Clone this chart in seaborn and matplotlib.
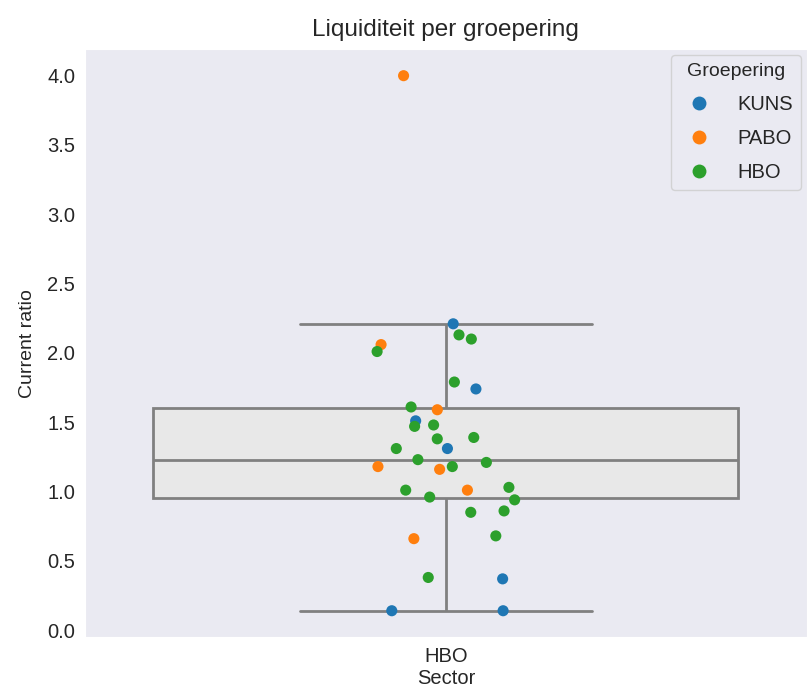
import numpy as np
import pandas as pd
import seaborn as sns
import matplotlib.pyplot as plt

# waarden per groepering
kuns = [2.21, 1.74, 1.51, 1.31, 0.37, 0.14, 0.14]
pabo = [4.00, 2.06, 1.59, 1.18, 1.16, 1.01, 0.66]
hbo = [2.10, 2.13, 2.01, 1.79, 1.61, 1.48, 1.47, 1.39, 1.38, 1.31, 1.18,
       1.21, 1.23, 1.01, 0.96, 1.03, 0.94, 0.85, 0.86, 0.68, 0.38]
groepen = ["KUNS", "PABO", "HBO"]

df = pd.DataFrame({
    "Current ratio": kuns + pabo + hbo,
    "Groepering": ["KUNS"] * len(kuns) + ["PABO"] * len(pabo) + ["HBO"] * len(hbo),
})
df["Sector"] = "HBO"

sns.set_style("dark")
plt.rcParams["font.family"] = ["Liberation Sans", "DejaVu Sans"]

fig, ax = plt.subplots(figsize=(8.07, 6.99), dpi=100)
fig.subplots_adjust(left=0.105, right=1.0, bottom=0.088, top=0.93)

sns.boxplot(data=df, x="Sector", y="Current ratio", showfliers=False, width=0.81,
            boxprops=dict(facecolor="#e8e8e8", edgecolor="#808080"),
            linecolor="#808080", linewidth=2, ax=ax)
np.random.seed(3)
sns.stripplot(data=df, x="Sector", y="Current ratio", hue="Groepering",
              hue_order=groepen, jitter=0.1, size=8, ax=ax)

ax.set_title("Liquiditeit per groepering", fontsize=17.5, pad=9)
ax.set_xlabel("Sector", fontsize=14.5, labelpad=2)
ax.set_ylabel("Current ratio", fontsize=14, labelpad=8)
ax.tick_params(labelsize=14.5)
leg = ax.legend(title="Groepering", loc="upper right", fontsize=14.5, title_fontsize=14,
                labelspacing=0.75, markerscale=1.25, handletextpad=0.9, borderaxespad=0.3)

fig.savefig("out.png")
